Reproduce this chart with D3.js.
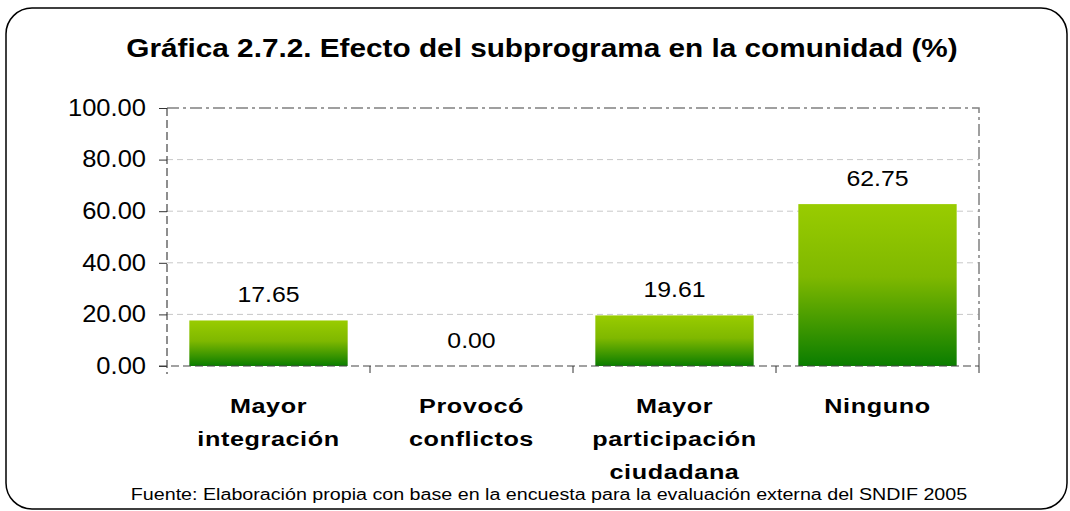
<!DOCTYPE html>
<html>
<head>
<meta charset="utf-8">
<script src="https://cdn.jsdelivr.net/npm/d3@7"></script>
<style>
  body { margin: 0; background: #fff; }
  text { font-family: "Liberation Sans", Arial, sans-serif; }
</style>
</head>
<body>
<div id="chart"></div>
<script>
// datos
const categorias = [
  ["Mayor", "integración"],
  ["Provocó", "conflictos"],
  ["Mayor", "participación", "ciudadana"],
  ["Ninguno"]
];
const valores = [17.65, 0.00, 19.61, 62.75];
const ticksY = [0, 20, 40, 60, 80, 100];
const titulo = "Gráfica 2.7.2. Efecto del subprograma en la comunidad (%)";
const fuente = "Fuente: Elaboración propia con base en la encuesta para la evaluación externa del SNDIF 2005";

const W = 1070, H = 511;
const m = {left: 167, right: 979, top: 108, bottom: 366};

// el original tiene el texto estirado a lo ancho
function estirar(sel, k) {
  sel.each(function () {
    let t = d3.select(this);
    let x0 = +t.attr("x") || 0;
    t.attr("transform", `translate(${x0},0) scale(${k},1) translate(${-x0},0)`);
  });
}

let svg = d3.select("#chart").append("svg")
  .attr("width", W)
  .attr("height", H);

// degradado de las barras
let grad = svg.append("defs").append("linearGradient")
  .attr("id", "verde")
  .attr("x1", 0).attr("y1", 0).attr("x2", 0).attr("y2", 1);
grad.append("stop").attr("offset", "0%").attr("stop-color", "#99cc00");
grad.append("stop").attr("offset", "45%").attr("stop-color", "#7fb800");
grad.append("stop").attr("offset", "100%").attr("stop-color", "#0a7d00");

// marco redondeado
svg.append("rect")
  .attr("x", 6).attr("y", 8)
  .attr("width", 1061).attr("height", 501)
  .attr("rx", 26).attr("ry", 26)
  .attr("fill", "#fff")
  .attr("stroke", "#000")
  .attr("stroke-width", 1.5);

svg.append("text")
  .attr("x", 542).attr("y", 57)
  .attr("text-anchor", "middle")
  .style("font-size", "25px")
  .style("font-weight", "bold")
  .text(titulo)
  .call(estirar, 1.19);

let x = d3.scaleBand()
  .domain(d3.range(categorias.length))
  .range([m.left, m.right])
  .paddingInner(0.22)
  .paddingOuter(0.11);

let xTicks = d3.scaleLinear()
  .domain([0, categorias.length])
  .range([m.left, m.right]);

let y = d3.scaleLinear()
  .domain([0, 100])
  .range([m.bottom, m.top]);

// rejilla
svg.append("g")
  .selectAll("line")
  .data(ticksY.filter(d => d > 0 && d < 100))
  .enter()
  .append("line")
  .attr("x1", m.left).attr("x2", m.right)
  .attr("y1", d => y(d)).attr("y2", d => y(d))
  .attr("stroke", "#c8c8c8")
  .attr("stroke-width", 1)
  .attr("stroke-dasharray", "6,4");

// borde superior y derecho del área de trazado (raya-punto)
svg.append("path")
  .attr("d", `M${m.left},${y(100)}H${m.right}V${m.bottom}`)
  .attr("fill", "none")
  .attr("stroke", "#808080")
  .attr("stroke-width", 1.5)
  .attr("stroke-dasharray", "12,4,3,4");

// barras
svg.append("g")
  .selectAll("rect")
  .data(valores)
  .enter()
  .append("rect")
  .attr("x", (d, i) => x(i))
  .attr("width", x.bandwidth())
  .attr("y", d => y(d))
  .attr("height", d => y(0) - y(d))
  .attr("fill", "url(#verde)");

// eje y
let ejeY = svg.append("g")
  .attr("transform", `translate(${m.left},0)`)
  .call(d3.axisLeft(y).tickValues(ticksY).tickFormat(d3.format(".2f")).tickSize(8).tickPadding(13));
ejeY.select(".domain")
  .attr("stroke", "#444")
  .attr("stroke-width", 1.2)
  .attr("stroke-dasharray", "8,4")
  .attr("d", `M0,${y(100)}V${m.bottom + 8}`);
ejeY.selectAll(".tick line").attr("stroke", "#333");
ejeY.selectAll(".tick text")
  .attr("fill", "#000")
  .style("font-size", "23px")
  .style("font-family", "'Liberation Sans', Arial, sans-serif")
  .call(estirar, 1.11);

// eje x
let ejeX = svg.append("g");
ejeX.append("line")
  .attr("x1", m.left - 8).attr("x2", m.right)
  .attr("y1", y(0)).attr("y2", y(0))
  .attr("stroke", "#444")
  .attr("stroke-width", 1.2)
  .attr("stroke-dasharray", "8,4");
ejeX.selectAll(".tk")
  .data(d3.range(1, categorias.length + 1))
  .enter()
  .append("line")
  .attr("class", "tk")
  .attr("x1", d => xTicks(d)).attr("x2", d => xTicks(d))
  .attr("y1", y(0)).attr("y2", y(0) + 7)
  .attr("stroke", "#333");

// etiquetas de valor
svg.append("g")
  .selectAll("text")
  .data(valores)
  .enter()
  .append("text")
  .attr("x", (d, i) => x(i) + x.bandwidth() / 2)
  .attr("y", d => y(d) - 18)
  .attr("text-anchor", "middle")
  .style("font-size", "22px")
  .text(d => d.toFixed(2))
  .call(estirar, 1.13);

// etiquetas de categoría
let cats = svg.append("g")
  .selectAll("text")
  .data(categorias)
  .enter()
  .append("text")
  .attr("x", (d, i) => x(i) + x.bandwidth() / 2)
  .attr("y", 413)
  .attr("text-anchor", "middle")
  .style("font-size", "21px")
  .style("font-weight", "bold")
  .style("letter-spacing", "0.5px");
cats.selectAll("tspan")
  .data(d => d)
  .enter()
  .append("tspan")
  .attr("x", function () { return d3.select(this.parentNode).attr("x"); })
  .attr("dy", (d, i) => i == 0 ? 0 : 33)
  .text(d => d);
cats.call(estirar, 1.2);

svg.append("text")
  .attr("x", 549).attr("y", 500)
  .attr("text-anchor", "middle")
  .style("font-size", "16px")
  .text(fuente)
  .call(estirar, 1.23);
</script>
</body>
</html>
